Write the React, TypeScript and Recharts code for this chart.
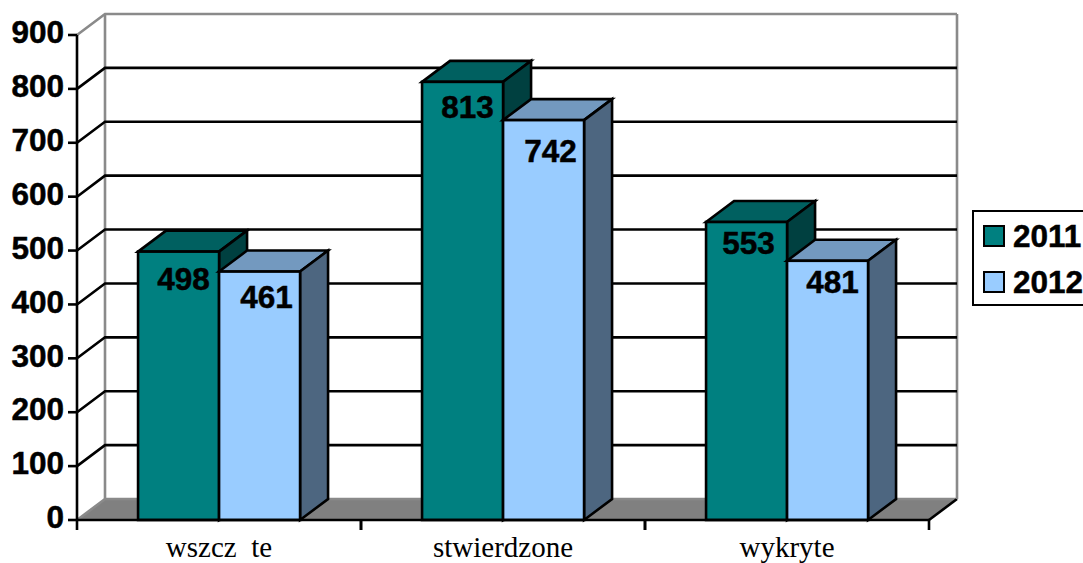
import React from "react";
import { Bar, BarChart, CartesianGrid, LabelList, Legend, XAxis, YAxis } from "recharts";

const categories = ["wszcz\u00a0\u00a0te", "stwierdzone", "wykryte"];
const values2011 = [498, 813, 553];
const values2012 = [461, 742, 481];
const yTicks = [0, 100, 200, 300, 400, 500, 600, 700, 800, 900];

// label nudges, per bar
const labelNudge2011 = [[5, 27], [5, 25], [2, 21]];
const labelNudge2012 = [[7, 25], [7, 31], [5, 21]];

const DX = 28;
const DY = -21;
const BOLD = "'Liberation Sans', Arial, sans-serif";
const SERIF = "'Liberation Serif', 'Times New Roman', serif";
const LINE = 2.6;
const BOLD_SIZE = 31.5;

const data = categories.map((name, i) => ({
  name,
  y2011: values2011[i],
  y2012: values2012[i],
}));

const box3d = (front: string, top: string, side: string) => (props: any) => {
  const { x, y, width, height } = props;
  const r = x + width;
  const b = y + height;
  return (
    <g stroke="#000" strokeWidth={LINE} strokeLinejoin="miter">
      <path d={`M${x},${y}L${x + DX},${y + DY}L${r + DX},${y + DY}L${r},${y}Z`} fill={top} />
      <path d={`M${r},${y}L${r + DX},${y + DY}L${r + DX},${b + DY}L${r},${b}Z`} fill={side} />
      <rect x={x} y={y} width={width} height={height} fill={front} />
    </g>
  );
};

const gridLine = (props: any) => {
  const { x1, x2, y1, y, height, index } = props;
  const bottom = y + height;
  if (Math.abs(y1 - bottom) < 1) {
    // floor plus the two side edges of the back wall
    return (
      <g key={`grid-${index}`}>
        <path
          d={`M${x1},${y1}L${x1 + DX},${y1 + DY}L${x2 + DX},${y1 + DY}L${x2},${y1}Z`}
          fill="#808080"
          stroke="none"
        />
        <path d={`M${x1},${y1}L${x1 + DX},${y1 + DY}L${x2 + DX},${y1 + DY}`} fill="none" stroke="#8a8a8a" strokeWidth={LINE} />
        <path d={`M${x2},${y1}L${x2 + DX},${y1 + DY}`} fill="none" stroke="#000" strokeWidth={LINE} />
        <path
          d={`M${x1 + DX},${y + DY}L${x1 + DX},${y1 + DY}M${x2 + DX},${y + DY}L${x2 + DX},${y1 + DY}`}
          fill="none"
          stroke="#8a8a8a"
          strokeWidth={LINE}
        />
      </g>
    );
  }
  const isTop = Math.abs(y1 - y) < 1;
  return (
    <path
      key={`grid-${index}`}
      d={`M${x1},${y1}L${x1 + DX},${y1 + DY}L${x2 + DX},${y1 + DY}`}
      fill="none"
      stroke={isTop ? "#8a8a8a" : "#000"}
      strokeWidth={LINE}
    />
  );
};

const YTick = ({ x, y, payload }: any) => (
  <text
    x={x}
    y={y - 3}
    dy="0.355em"
    textAnchor="end"
    fontFamily={BOLD}
    fontWeight="bold"
    fontSize={BOLD_SIZE}
    fill="#000"
    stroke="#000"
    strokeWidth={0.5}
  >
    {payload.value}
  </text>
);

const XTick = ({ x, y, payload, width }: any) => {
  const half = width / categories.length / 2;
  const base = y - 8;
  return (
    <g>
      <path
        d={`M${x - half},${base}V${base + 10}M${x + half},${base}V${base + 10}`}
        stroke="#000"
        strokeWidth={LINE}
        fill="none"
      />
      <text x={x} y={556.5} textAnchor="middle" fontFamily={SERIF} fontSize={29} fill="#000">
        {payload.value}
      </text>
    </g>
  );
};

const barLabel = (nudge: number[][]) => (props: any) => {
  const { x, y, width, value, index } = props;
  return (
    <text
      x={x + width / 2 + nudge[index][0]}
      y={y + nudge[index][1]}
      dy="0.355em"
      textAnchor="middle"
      fontFamily={BOLD}
      fontWeight="bold"
      fontSize={BOLD_SIZE}
      fill="#000"
      stroke="#000"
      strokeWidth={0.5}
    >
      {value}
    </text>
  );
};

const LegendBox = ({ payload }: any) => (
  <div
    style={{
      boxSizing: "border-box",
      width: 120,
      height: 96,
      border: "2.5px solid #000",
      position: "relative",
      background: "#fff",
    }}
  >
    {(payload || []).map((item: any, i: number) => (
      <div
        key={item.value}
        style={{
          position: "absolute",
          left: 9,
          top: 12 + i * 46,
          display: "flex",
          alignItems: "center",
          height: 24,
          fontFamily: BOLD,
          fontWeight: "bold",
          fontSize: BOLD_SIZE,
          WebkitTextStroke: "0.5px #000",
          color: "#000",
        }}
      >
        <span
          style={{
            boxSizing: "border-box",
            width: 22,
            height: 22,
            border: "2.5px solid #000",
            background: item.color,
            marginRight: 8,
          }}
        />
        {item.value}
      </div>
    ))}
  </div>
);

export default function App() {
  return (
    <div style={{ position: "fixed", left: 0, top: 0, width: 1083, height: 563, overflow: "hidden", background: "#fff" }}>
      <BarChart
        width={1083}
        height={563}
        data={data}
        barGap={0}
        barCategoryGap="21.5%"
        margin={{ top: 35, right: 34, bottom: 13, left: 7 }}
      >
        <CartesianGrid vertical={false} horizontal={gridLine} />
        <XAxis
          dataKey="name"
          height={30}
          interval={0}
          axisLine={{ stroke: "#000", strokeWidth: LINE }}
          tickLine={false}
          tick={<XTick />}
        />
        <YAxis
          width={70}
          domain={[0, 900]}
          ticks={yTicks}
          interval={0}
          tickSize={9}
          tickMargin={4}
          axisLine={{ stroke: "#000", strokeWidth: LINE }}
          tickLine={{ stroke: "#000", strokeWidth: LINE }}
          tick={<YTick />}
        />
        <Legend
          layout="vertical"
          align="right"
          verticalAlign="top"
          wrapperStyle={{ left: 972, top: 210, width: 120, right: "auto", bottom: "auto" }}
          content={<LegendBox />}
        />
        <Bar dataKey="y2011" name="2011" fill="#008080" isAnimationActive={false} shape={box3d("#008080", "#006060", "#004040")}>
          <LabelList dataKey="y2011" content={barLabel(labelNudge2011)} />
        </Bar>
        <Bar dataKey="y2012" name="2012" fill="#99CCFF" isAnimationActive={false} shape={box3d("#99CCFF", "#7399BF", "#4D6680")}>
          <LabelList dataKey="y2012" content={barLabel(labelNudge2012)} />
        </Bar>
      </BarChart>
    </div>
  );
}
